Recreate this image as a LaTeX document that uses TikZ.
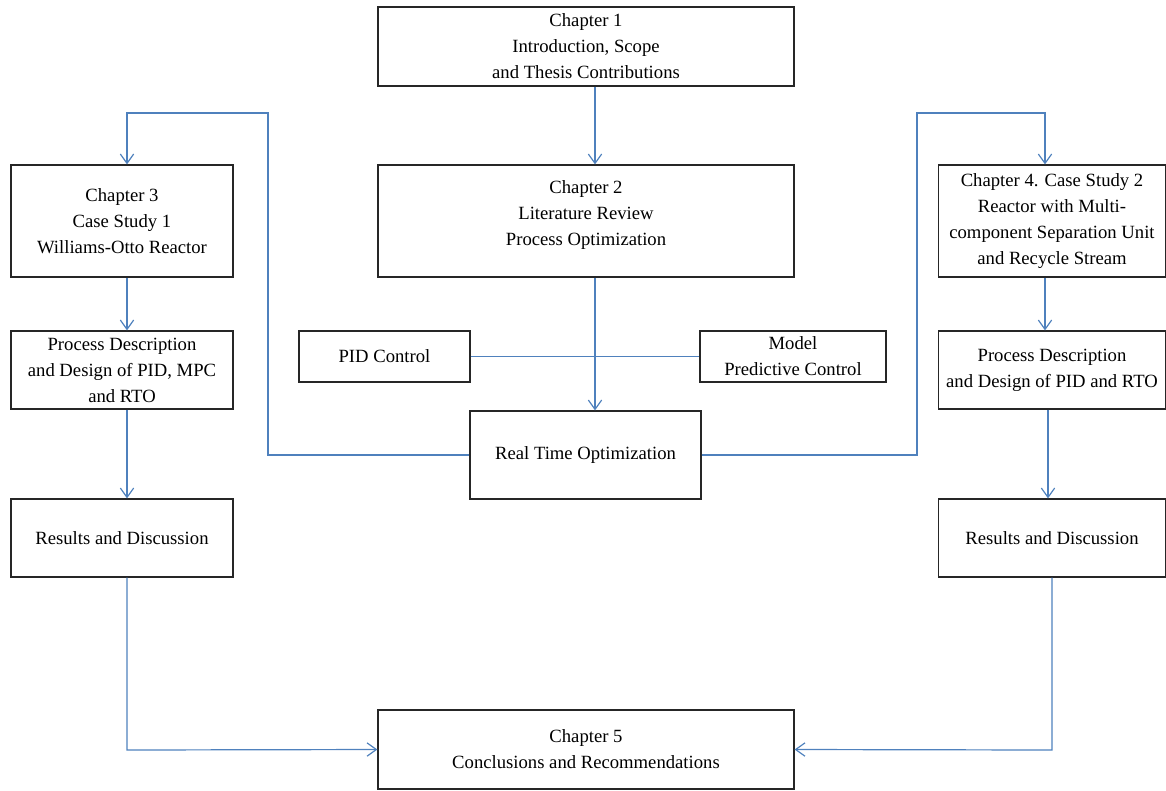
\documentclass[tikz,border=0pt]{standalone}
\usepackage{fontspec}
\setmainfont{Liberation Serif}
\usetikzlibrary{arrows.meta}
\definecolor{flowblue}{RGB}{79,129,189}
\tikzset{
  box/.style={draw=black!85, line width=0.9pt, align=center, inner sep=0pt,
    font=\fontsize{14}{19.5}\selectfont},
  sz/.style 2 args={minimum width=#1*0.75pt, minimum height=#2*0.75pt},
  flow/.style={draw=flowblue, line width=0.9pt},
  arr/.style={flow, -{Straight Barb[length=7pt,width=10pt,line width=0.9pt]}}
}
\begin{document}
\begin{tikzpicture}[x=0.75pt,y=-0.75pt]
\useasboundingbox (0,0) rectangle (1166,790);
% chapters in the middle
\node[box,sz={416}{79}] (ch1) at (586,46.5) {Chapter 1\\Introduction, Scope\\and Thesis Contributions};
\node[box,sz={416}{112}] (ch2) at (586,221) {Chapter 2\\Literature Review\\Process Optimization\\[-7.5pt]};
\node[box,sz={171}{51}] (pid) at (384.5,356.5) {PID Control};
\node[box,sz={186}{51}] (mpc) at (793,356.5) {Model\\Predictive Control};
\node[box,sz={231}{88}] (rto) at (585.5,455) {Real Time Optimization};
\node[box,sz={416}{79}] (ch5) at (586,749.5) {Chapter 5\\Conclusions and Recommendations};
% case study 1
\node[box,sz={222}{112}] (ch3) at (122,221) {Chapter 3\\Case Study 1\\Williams-Otto Reactor};
\node[box,sz={222}{78}] (pd1) at (122,370) {Process Description\\and Design of PID, MPC\\and RTO};
\node[box,sz={222}{78}] (res1) at (122,538) {Results and Discussion};
% case study 2
\node[box,sz={227}{112}] (ch4) at (1052,221) {Chapter 4. Case Study 2\\Reactor with Multi-\\component Separation Unit\\and Recycle Stream};
\node[box,sz={227}{78}] (pd2) at (1052,370) {Process Description\\and Design of PID and RTO};
\node[box,sz={227}{78}] (res2) at (1052,538) {Results and Discussion};
% bends
\coordinate (lt) at (268,113);
\coordinate (rt) at (917,113);
\coordinate (lb) at (127,750);
\coordinate (rb) at (1052,750);
% connectors
\draw[arr] (ch1.south -| 595,0) -- (ch2.north -| 595,0);
\draw[arr] (ch2.south -| 595,0) -- (rto.north -| 595,0);
\draw[flow] (pid.east) -- (mpc.west);
\draw[arr] (rto.west) -| (lt) -| (ch3.north -| 127,0);
\draw[arr] (rto.east) -| (rt) -| (ch4.north -| 1045,0);
\draw[arr] (ch3.south -| 127,0) -- (pd1.north -| 127,0);
\draw[arr] (pd1.south -| 127,0) -- (res1.north -| 127,0);
\draw[arr] (res1.south -| lb) -- (lb) -- (ch5.west);
\draw[arr] (ch4.south -| 1045,0) -- (pd2.north -| 1045,0);
\draw[arr] (pd2.south -| 1048,0) -- (res2.north -| 1048,0);
\draw[arr] (res2.south -| rb) -- (rb) -- (ch5.east);
\end{tikzpicture}
\end{document}
